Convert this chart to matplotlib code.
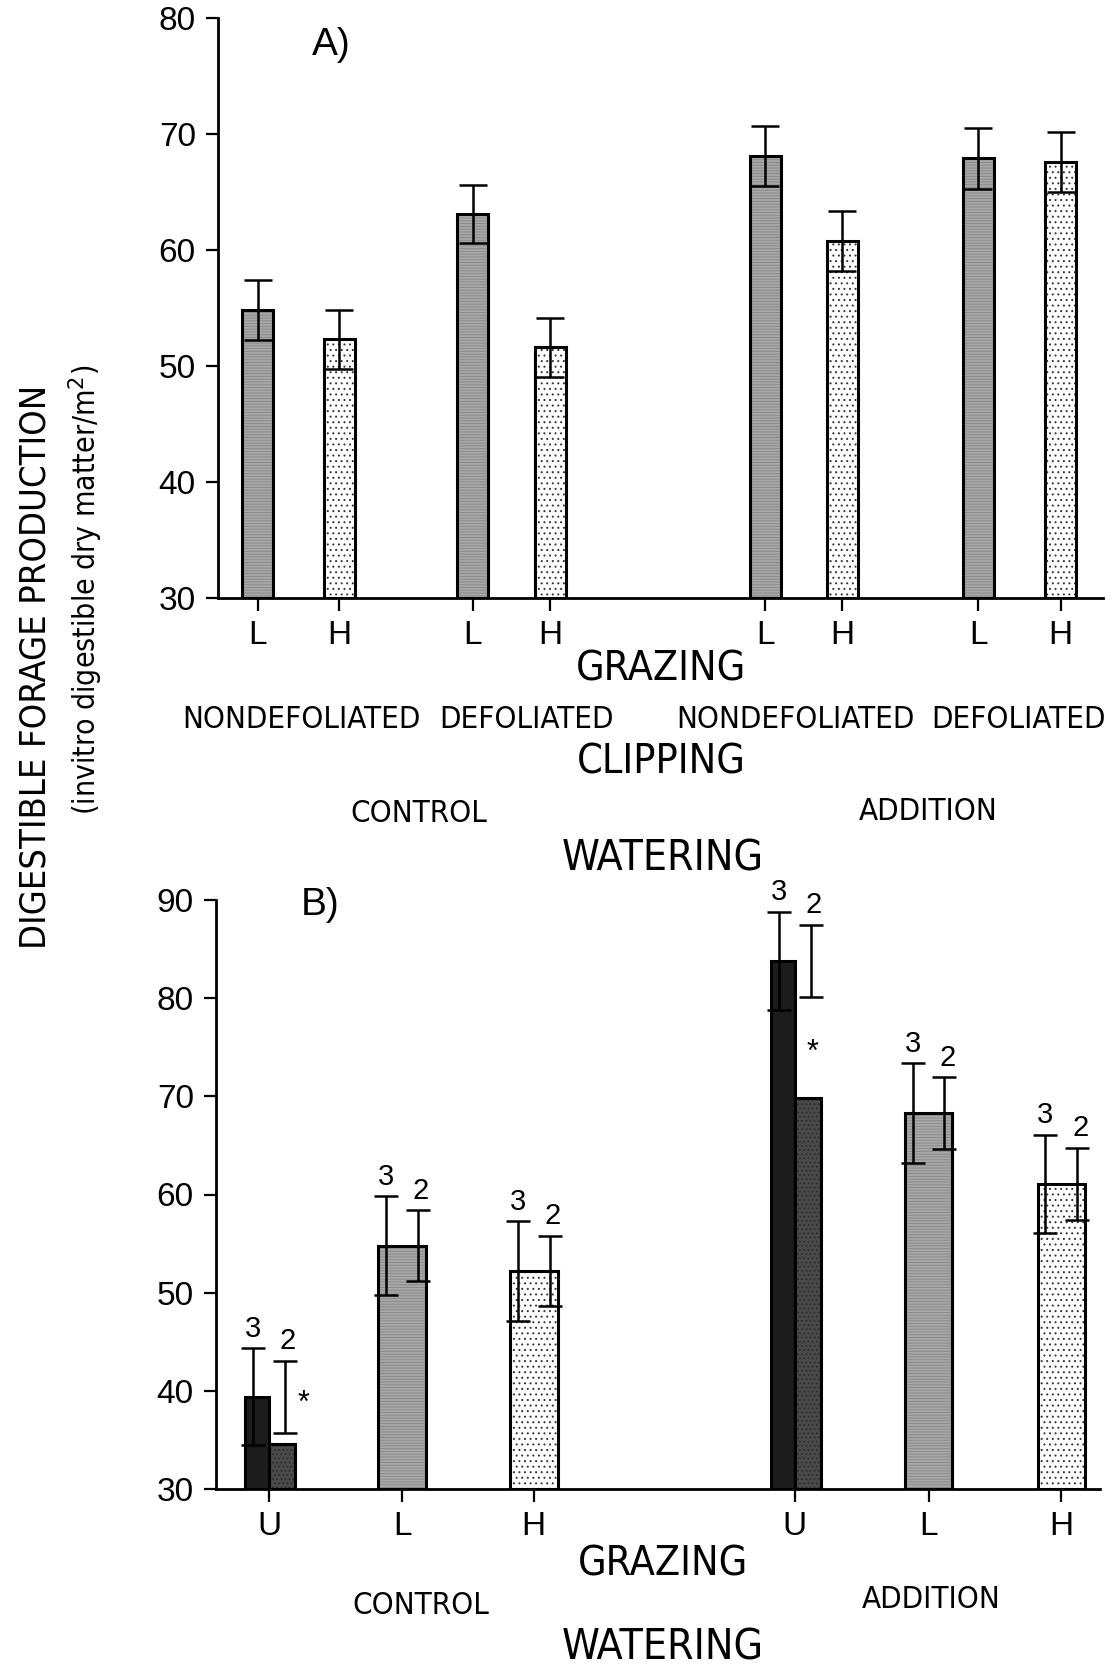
import matplotlib
matplotlib.use("Agg")
import matplotlib.pyplot as plt
from matplotlib import font_manager as fm

# panel A: digestible forage, grazing x clipping x watering
A_grazing = ["L", "H", "L", "H", "L", "H", "L", "H"]
A_means = [54.8, 52.3, 63.1, 51.6, 68.1, 60.8, 67.9, 67.6]
A_se = [2.6, 2.55, 2.5, 2.55, 2.6, 2.6, 2.65, 2.6]
A_clipping = ["NONDEFOLIATED", "DEFOLIATED", "NONDEFOLIATED", "DEFOLIATED"]
watering = ["CONTROL", "ADDITION"]

# panel B: 3-year and 2-year means, grazing x watering
B_grazing = ["U", "L", "H", "U", "L", "H"]
B_mean3 = [39.4, 54.8, 52.2, 83.8, 68.3, 61.1]
B_se3 = [4.95, 5.05, 5.05, 5.0, 5.05, 5.0]
B_se2 = [3.65, 3.6, 3.6, 3.7, 3.65, 3.65]
B_mean2_U = [34.6, 69.8]   # 2-year bars, ungrazed only (* = differs)

W, H = 1118, 1673
plt.rcParams["hatch.linewidth"] = 0.7
fig = plt.figure(figsize=(W / 100, H / 100), dpi=100)

REG = ["Liberation Sans", "DejaVu Sans"]
# look for a condensed sans for the axis titles (the original uses one)
cond = [f for f in fm.fontManager.ttflist
        if ("Narrow" in f.name or "Condensed" in f.name or f.stretch in ("condensed", "semi-condensed"))
        and "Mono" not in f.name and "Serif" not in f.name and f.style == "normal"
        and f.weight in (400, "normal", "regular", "book")]
if cond:
    NARROW = dict(family=[cond[0].name] + REG, stretch=cond[0].stretch)
    k = 1.18
else:
    NARROW = dict(family=REG)
    k = 1.0


def ftext(x, y, s, size, props=None, **kw):
    # place text by pixel position in the full picture
    p = NARROW if props is None else props
    fig.text(x / W, 1 - y / H, s, fontsize=size, ha="center", va="center", **p, **kw)


def styled_bar(ax, x, h, width, kind):
    if kind == "L":
        ax.bar(x, h - 30, width, bottom=30, color="#a8a8a8", edgecolor="#8a8a8a",
               hatch="------", linewidth=0)
    elif kind == "H":
        ax.bar(x, h - 30, width, bottom=30, color="white", edgecolor="#333333",
               hatch="...", linewidth=0)
    elif kind == "U3":
        ax.bar(x, h - 30, width, bottom=30, color="#1c1c1c", linewidth=0)
    else:
        ax.bar(x, h - 30, width, bottom=30, color="#4a4a4a", edgecolor="#2a2a2a",
               hatch="....", linewidth=0)
    ax.bar(x, h - 30, width, bottom=30, fill=False, edgecolor="black", linewidth=2.2)


def style_axes(ax):
    for s in ["top", "right"]:
        ax.spines[s].set_visible(False)
    for s in ["left", "bottom"]:
        ax.spines[s].set_linewidth(2.0)
    ax.tick_params(axis="both", direction="out", length=9, width=1.6, pad=7,
                   labelsize=24)
    for lab in ax.get_yticklabels() + ax.get_xticklabels():
        lab.set_family(REG)


# ---------- panel A ----------
axA = fig.add_axes([218 / W, 1 - 598 / H, (1103 - 218) / W, (598 - 18) / H])
xa = [0, 1.02, 2.69, 3.66, 6.35, 7.31, 9.01, 10.04]
for x, m, g in zip(xa, A_means, A_grazing):
    styled_bar(axA, x, m, 0.39, g)
axA.errorbar(xa, A_means, yerr=A_se, fmt="none", ecolor="black",
             elinewidth=1.8, capsize=10, capthick=1.8)
axA.set_ylim(30, 80)
axA.set_xlim(-0.494, 10.57)
axA.set_yticks(range(30, 81, 10))
axA.set_xticks(xa)
axA.set_xticklabels(A_grazing)
style_axes(axA)
ftext(331, 45, "A)", 28, props=dict(family=REG))

ftext(661, 670, "GRAZING", 25 * k)
for x, s in zip([301, 526, 795, 1019], A_clipping):
    ftext(x, 720, s, 19 * k)
ftext(661, 763, "CLIPPING", 25 * k)
ftext(419, 813, watering[0], 19 * k)
ftext(928, 811, watering[1], 19 * k)
ftext(663, 858, "WATERING", 26 * k)

# ---------- panel B ----------
axB = fig.add_axes([216 / W, 1 - 1489 / H, (1100 - 216) / W, (1489 - 900) / H])
xb = [0, 1.0, 1.99, 3.955, 4.96, 5.96]
u_i = 0
for x, m, g in zip(xb, B_mean3, B_grazing):
    if g == "U":
        styled_bar(axB, x - 0.09, m, 0.18, "U3")
        styled_bar(axB, x + 0.097, B_mean2_U[u_i], 0.193, "U2")
        u_i += 1
    else:
        styled_bar(axB, x, m, 0.36, g)
x3 = [x - 0.12 for x in xb]
x2 = [x + 0.12 for x in xb]
axB.errorbar(x3, B_mean3, yerr=B_se3, fmt="none", ecolor="black",
             elinewidth=1.8, capsize=8.3, capthick=1.8)
axB.errorbar(x2, B_mean3, yerr=B_se2, fmt="none", ecolor="black",
             elinewidth=1.8, capsize=8.3, capthick=1.8)
for xx, m, s in zip(x3, B_mean3, B_se3):
    axB.annotate("3", (xx, m + s), xytext=(0, 14), textcoords="offset points",
                 ha="center", va="center", fontsize=21, family=REG)
for xx, m, s in zip(x2, B_mean3, B_se2):
    axB.annotate("2", (xx, m + s), xytext=(2, 14), textcoords="offset points",
                 ha="center", va="center", fontsize=21, family=REG)
axB.text(xb[0] + 0.26, 38.7, "*", fontsize=22, ha="center", va="center", family=REG)
axB.text(xb[3] + 0.135, 74.4, "*", fontsize=22, ha="center", va="center", family=REG)
axB.set_ylim(30, 90)
axB.set_xlim(-0.40, 6.25)
axB.set_yticks(range(30, 91, 10))
axB.set_xticks(xb)
axB.set_xticklabels(B_grazing)
style_axes(axB)
ftext(320, 905, "B)", 28, props=dict(family=REG))

ftext(663, 1565, "GRAZING", 25 * k)
ftext(421, 1605, watering[0], 19 * k)
ftext(931, 1600, watering[1], 19 * k)
ftext(663, 1648, "WATERING", 26 * k)

# y labels shared by both panels
ftext(36, 667, "DIGESTIBLE FORAGE PRODUCTION", 26 if cond else 23, rotation=90)
ftext(86, 590, "(invitro digestible dry matter/m$^2$)", 18 * (1.2 if cond else 1.0), rotation=90)

fig.savefig("out.png", dpi=100)
